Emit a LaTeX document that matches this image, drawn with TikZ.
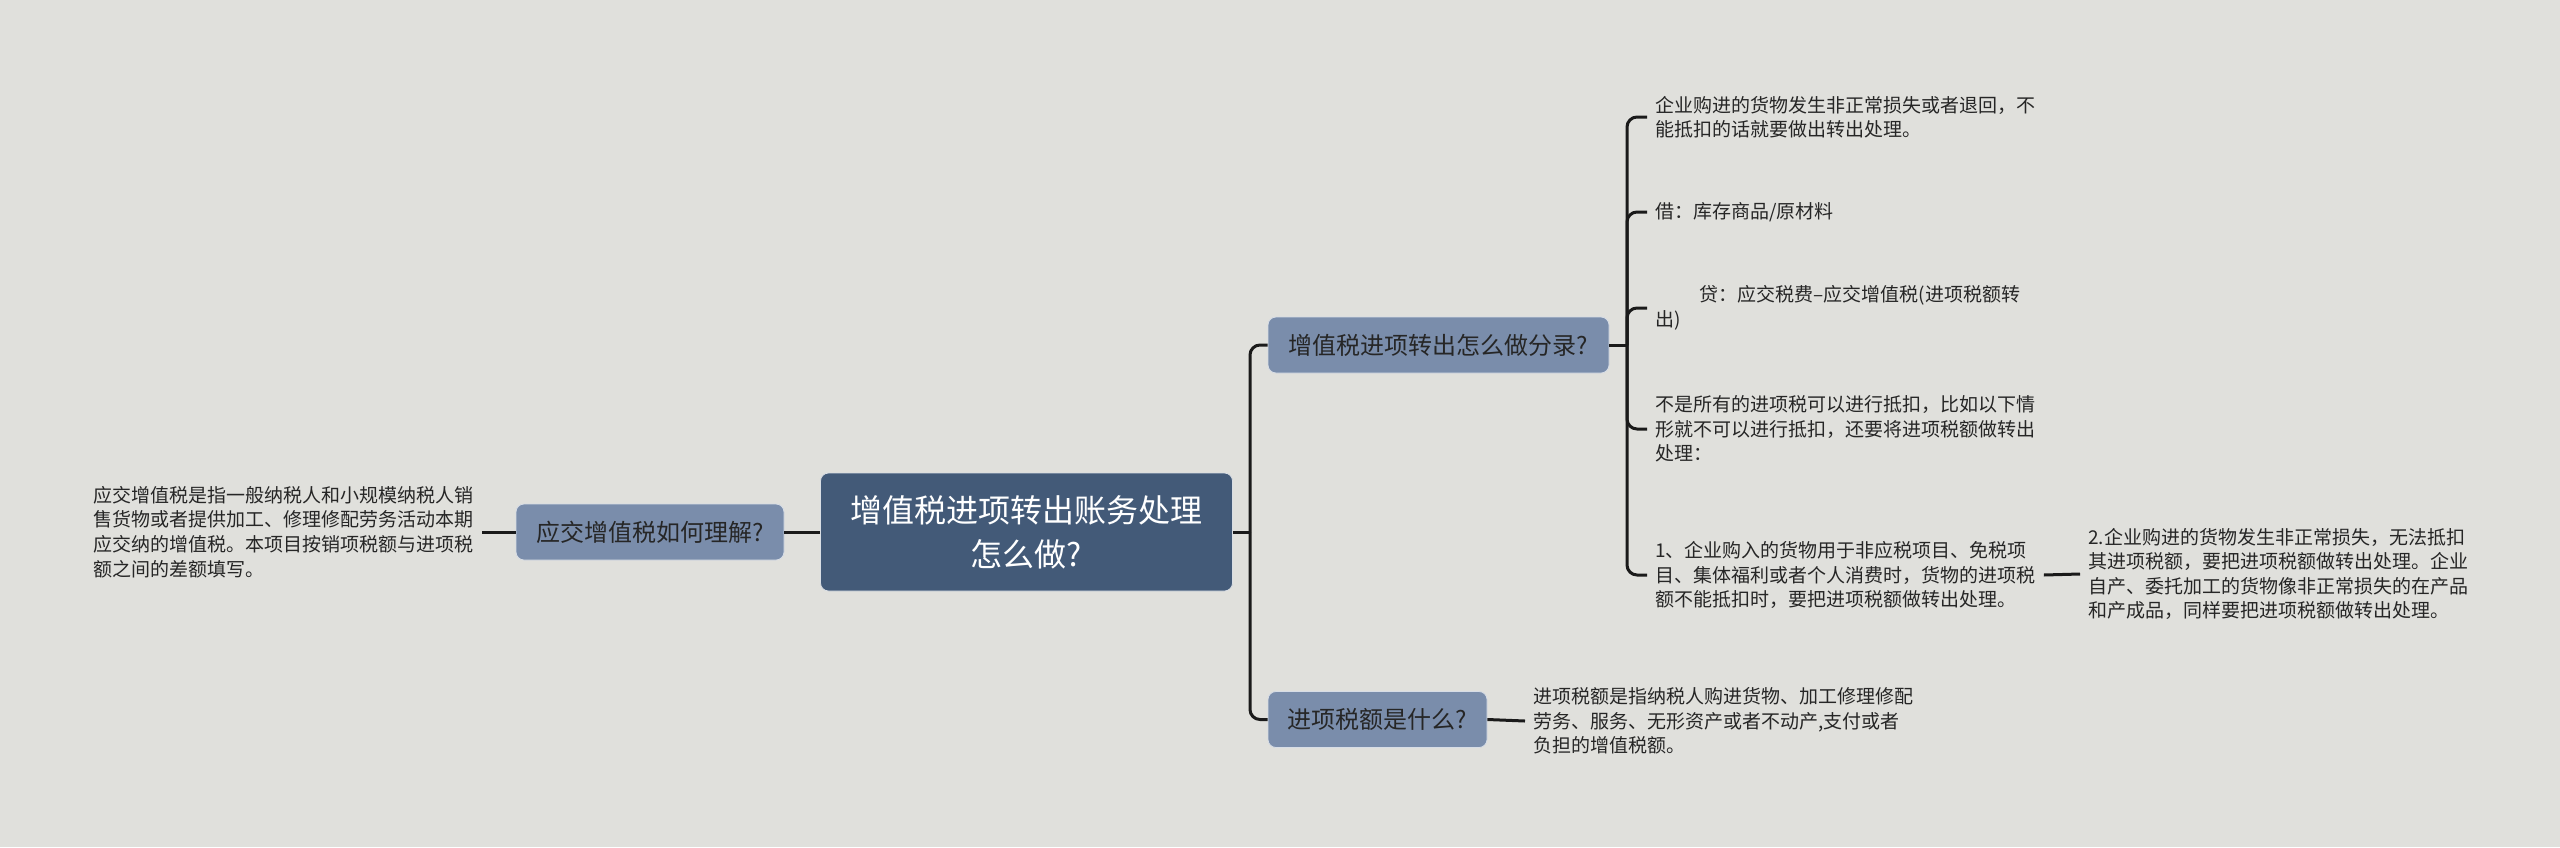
\documentclass[tikz,border=0pt]{standalone}
\usepackage{fontspec}
\newfontfamily\cjk{Noto Sans CJK SC}
\usepackage{tikz}
\usetikzlibrary{positioning}
\definecolor{bgcol}{HTML}{E0E0DC}
\definecolor{rootcol}{HTML}{435A78}
\definecolor{subcol}{HTML}{7A8DAB}
\definecolor{linecol}{HTML}{1A1A1A}
\definecolor{txtcol}{HTML}{262626}

\begin{document}
\begin{tikzpicture}[x=0.5pt, y=-0.5pt,
	rootbox/.style={draw=white!80!rootcol, line width=0.4pt, fill=rootcol, rounded corners=4pt, text=white, font=\cjk\fontsize{16pt}{22pt}\selectfont, align=center, minimum width=206pt, minimum height=59pt},
	subbox/.style={draw=white!70!subcol, line width=0.4pt, fill=subcol, rounded corners=4pt, text=txtcol, font=\cjk\fontsize{12pt}{14pt}\selectfont, minimum height=28pt},
	leaf/.style={text=txtcol, font=\cjk\fontsize{9.5pt}{12.3pt}\selectfont, align=left, inner xsep=4pt, inner ysep=1pt},
	wire/.style={draw=linecol, line width=1.5pt},
	elbow/.style={wire, rounded corners=5pt}]
	% Background and frame:
	\fill[bgcol] (0,0) rectangle (2560,847);
	\useasboundingbox (0,0) rectangle (2560,847);
	% Main topic and branches:
	\node[rootbox] (root) at (1026.5, 532) {增值税进项转出账务处理\\怎么做?};
	\node[subbox, minimum width=134pt] (ask) at (650, 532) {应交增值税如何理解?};
	\node[subbox, minimum width=170.5pt] (entry) at (1438.5, 345) {增值税进项转出怎么做分录?};
	\node[subbox, minimum width=109.5pt] (what) at (1377.5, 719.5) {进项税额是什么?};
	% Leaves:
	\node[leaf, anchor=east] (askleaf) at (482, 532) {应交增值税是指一般纳税人和小规模纳税人销\\售货物或者提供加工、修理修配劳务活动本期\\应交纳的增值税。本项目按销项税额与进项税\\额之间的差额填写。};
	\node[leaf, anchor=west] (loss) at (1647, 117) {企业购进的货物发生非正常损失或者退回，不\\能抵扣的话就要做出转出处理。};
	\node[leaf, anchor=west] (debit) at (1647, 212) {借：库存商品/原材料};
	\node[leaf, anchor=west] (credit) at (1647, 308) {\hspace*{22pt}贷：应交税费–应交增值税(进项税额转\\出)};
	\node[leaf, anchor=west] (notall) at (1647, 429) {不是所有的进项税可以进行抵扣，比如以下情\\形就不可以进行抵扣，还要将进项税额做转出\\处理：};
	\node[leaf, anchor=west] (case1) at (1647, 575) {1、企业购入的货物用于非应税项目、免税项\\目、集体福利或者个人消费时，货物的进项税\\额不能抵扣时，要把进项税额做转出处理。};
	\node[leaf, anchor=west] (case2) at (2080, 574) {2.企业购进的货物发生非正常损失，无法抵扣\\其进项税额，要把进项税额做转出处理。企业\\自产、委托加工的货物像非正常损失的在产品\\和产成品，同样要把进项税额做转出处理。};
	\node[leaf, anchor=west] (define) at (1525, 721) {进项税额是指纳税人购进货物、加工修理修配\\劳务、服务、无形资产或者不动产,支付或者\\负担的增值税额。};
	% Wires:
	\coordinate (hub) at (1250, 532);
	\coordinate (fork) at (1627, 345);
	\draw[wire] (root.east) -- (hub);
	\draw[elbow] (hub) |- (entry.west);
	\draw[elbow] (hub) |- (what.west);
	\draw[wire] (root.west) -- (ask.east);
	\draw[wire] (ask.west) -- (askleaf.east);
	\draw[wire] (entry.east) -- (fork);
	\foreach \n in {loss, debit, credit, notall, case1}
		\draw[elbow] (fork) |- (\n.west);
	\draw[wire] (case1.east) -- (case2.west);
	\draw[wire] (what.east) -- (define.west);
\end{tikzpicture}
\end{document}
